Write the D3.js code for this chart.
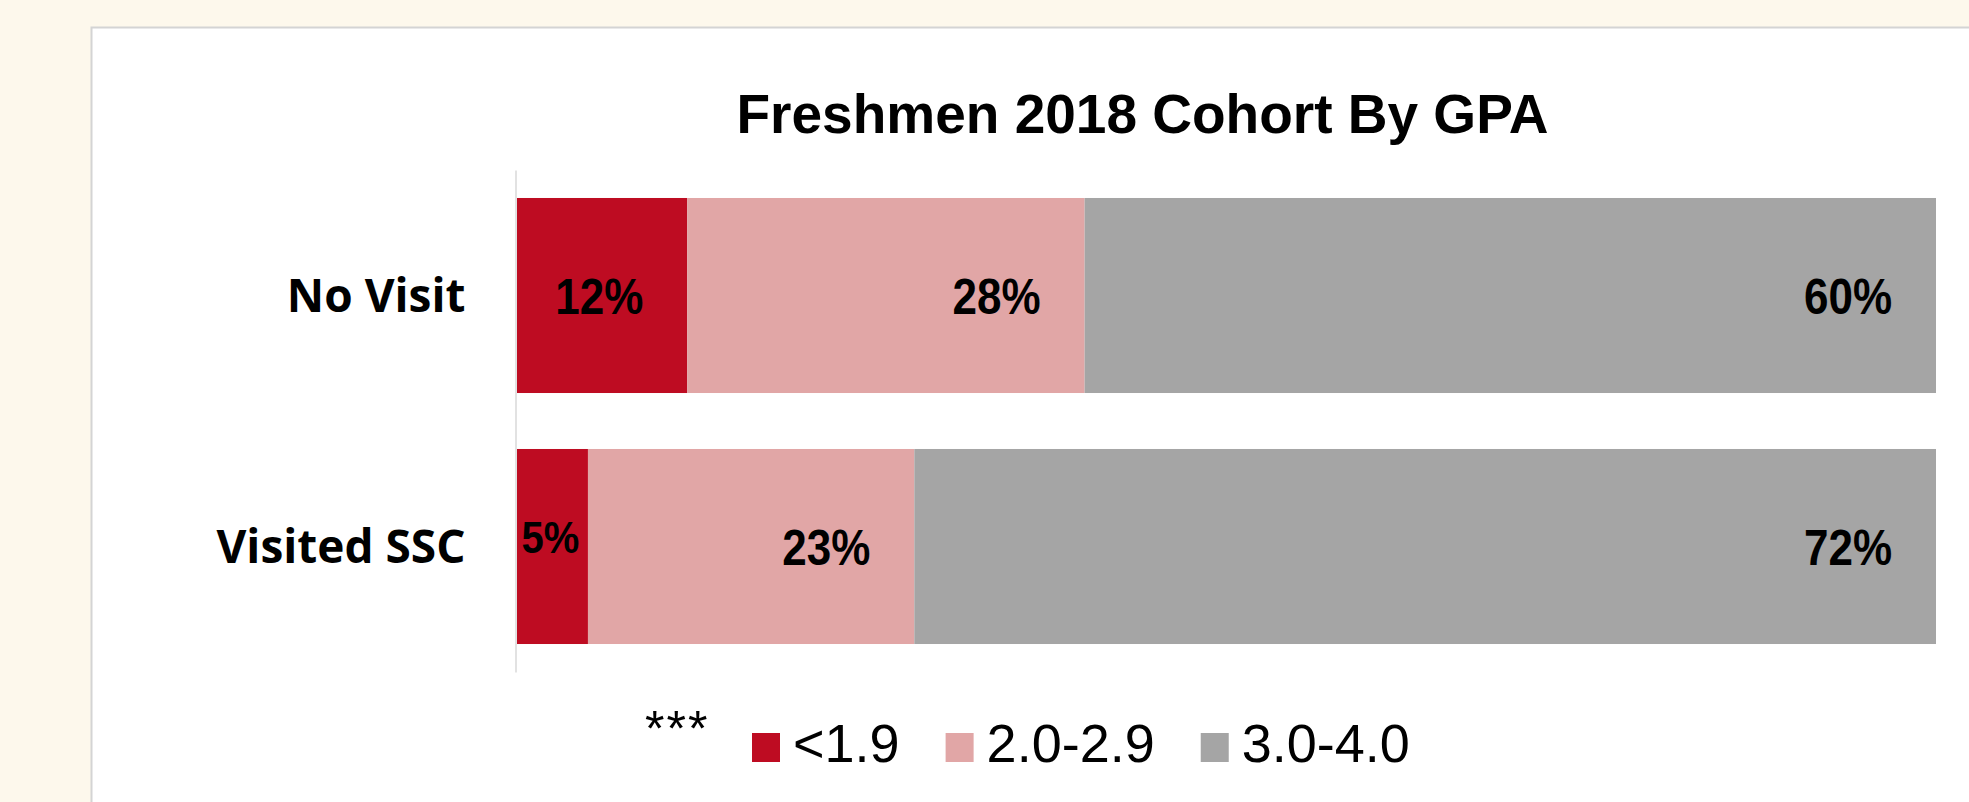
<!DOCTYPE html>
<html>
<head>
<meta charset="utf-8">
<script src="https://cdn.jsdelivr.net/npm/d3@7"></script>
<style>
  html, body { margin: 0; padding: 0; background: #FDF8EC; }
  svg { display: block; }
</style>
</head>
<body>
<script>
const title = "Freshmen 2018 Cohort By GPA";
const categories = ["No Visit", "Visited SSC"];
const seriesNames = ["<1.9", "2.0-2.9", "3.0-4.0"];
const seriesColors = ["#BE0C22", "#E1A6A6", "#A5A5A5"];
const lessThan19 = [12, 5];
const from20to29 = [28, 23];
const from30to40 = [60, 72];
const footnote = "***";

const W = 1969, H = 802;
const svg = d3.select("body").append("svg").attr("width", W).attr("height", H);

// white chart panel
svg.append("rect").attr("x", 91.5).attr("y", 27.5).attr("width", W).attr("height", H)
  .attr("fill", "#FFFFFF").attr("stroke", "#D4D4D4").attr("stroke-width", 2);

const rows = categories.map((c, i) => ({
  cat: c, "<1.9": lessThan19[i], "2.0-2.9": from20to29[i], "3.0-4.0": from30to40[i]
}));
const stack = d3.stack().keys(seriesNames)(rows);

const x = d3.scaleLinear().domain([0, 100]).range([517, 1936]);
const y = d3.scaleBand().domain(categories).range([170, 672]).paddingInner(0.223).paddingOuter(0.1115);
const color = d3.scaleOrdinal().domain(seriesNames).range(seriesColors);

// title
svg.append("text").attr("x", 1142.5).attr("y", 133).attr("text-anchor", "middle")
  .style("font-family", "'Liberation Sans', Arial, sans-serif").style("font-weight", "bold")
  .style("font-size", "55px").attr("fill", "#000").text(title);

// bars
const g = svg.append("g");
stack.forEach(layer => {
  g.selectAll(null).data(layer).enter().append("rect")
    .attr("x", d => x(d[0]))
    .attr("y", d => y(d.data.cat))
    .attr("width", d => x(d[1]) - x(d[0]))
    .attr("height", y.bandwidth())
    .attr("fill", color(layer.key));
});

// data labels
const labelFont = "'Liberation Sans', Arial, sans-serif";
stack.forEach(layer => {
  layer.forEach(d => {
    const val = d[1] - d[0];
    const segW = x(d[1]) - x(d[0]);
    const cy = y(d.data.cat) + y.bandwidth() / 2;
    const txt = val + "%";
    const small = segW < 100;
    const size = small ? 40 : 44;
    const t = svg.append("text")
      .style("font-family", labelFont).style("font-weight", "bold")
      .style("font-size", size + "px").attr("fill", "#000").text(txt);
    if (small) {
      t.attr("text-anchor", "middle")
       .attr("transform", `translate(${(x(d[0]) + x(d[1])) / 2 - 2},${cy + 6}) scale(1,1.12)`);
    } else {
      t.attr("text-anchor", "end")
       .attr("transform", `translate(${x(d[1]) - 44},${cy + 18}) scale(1,1.15)`);
    }
  });
});

// category axis
const axis = svg.append("g").attr("transform", "translate(515.5,0)")
  .call(d3.axisLeft(y).tickSize(0).tickPadding(50));
axis.select(".domain").attr("stroke", "#D9D9D9").attr("stroke-width", 1.5);
axis.selectAll(".tick text")
  .style("font-family", "'Open Sans', sans-serif").style("font-weight", "bold")
  .style("font-size", "46px").attr("fill", "#000")
  .attr("dy", null).attr("y", 16.5);

// footnote marker
svg.append("text").attr("x", 645).attr("y", 746)
  .style("font-family", labelFont).style("font-weight", "normal")
  .style("font-size", "50px").attr("letter-spacing", "2px").attr("fill", "#000").text(footnote);

// legend
const leg = svg.append("g");
let lx = 752;
const lBase = 762, sq = 29;
seriesNames.forEach(name => {
  leg.append("rect").attr("x", lx).attr("y", lBase - sq).attr("width", 28).attr("height", sq)
    .attr("fill", color(name));
  const t = leg.append("text").attr("x", lx + 28 + 13).attr("y", lBase)
    .style("font-family", labelFont).style("font-size", "54px").attr("fill", "#000").text(name);
  lx = lx + 28 + 13 + t.node().getComputedTextLength() + 46;
});
</script>
</body>
</html>
